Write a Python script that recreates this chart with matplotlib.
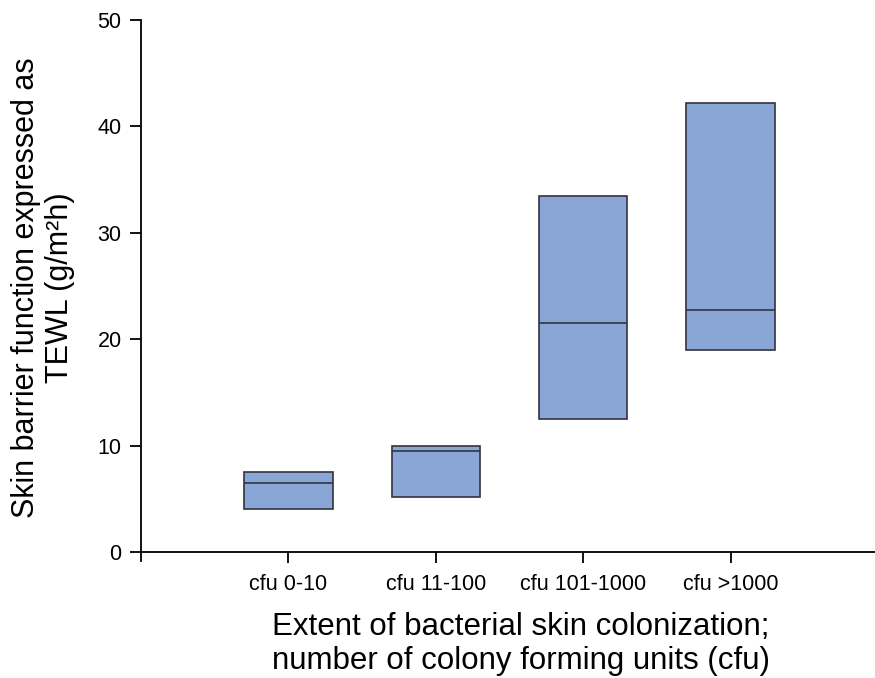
import matplotlib
matplotlib.use("Agg")
import matplotlib.pyplot as plt

plt.rcParams['font.family'] = ['Liberation Sans', 'DejaVu Sans']

categories = ["cfu 0-10", "cfu 11-100", "cfu 101-1000", "cfu >1000"]
q1 = [4.0, 5.2, 12.5, 19.0]
median = [6.5, 9.5, 21.5, 22.7]
q3 = [7.5, 10.0, 33.5, 42.2]
y_ticks = [0, 10, 20, 30, 40, 50]

fill_color = "#8aa6d6"
edge_color = "#30343f"

fig = plt.figure(figsize=(8.75, 6.78), dpi=100)
ax = fig.add_axes([141 / 875, 1 - 552 / 678, 737 / 875, 532 / 678])

pos = list(range(1, len(categories) + 1))
heights = [t - b for t, b in zip(q3, q1)]
ax.bar(pos, heights, bottom=q1, width=0.6, color=fill_color,
       edgecolor=edge_color, linewidth=1.2, zorder=2)
ax.hlines(median, [p - 0.3 for p in pos], [p + 0.3 for p in pos],
          colors=edge_color, linewidth=1.2, zorder=3)

ax.set_xlim(0, 5)
ax.set_ylim(0, 50)
ax.set_xticks(pos)
ax.set_xticklabels(categories, fontsize=15.5)
ax.set_yticks(y_ticks)
ax.set_yticklabels([str(v) for v in y_ticks], fontsize=15.5)
ax.tick_params(axis='both', direction='out', length=8, width=1.3, colors='black', pad=6)
ax.tick_params(axis='x', pad=8)

for side in ('top', 'right'):
    ax.spines[side].set_visible(False)
for side in ('left', 'bottom'):
    ax.spines[side].set_linewidth(1.3)

# short stub of the y axis below the origin
ax.plot([0, 0], [0, -0.016], transform=ax.transAxes, color='black',
        linewidth=1.3, clip_on=False)

ax.set_ylabel("Skin barrier function expressed as\nTEWL (g/m\u00b2h)",
              fontsize=22, linespacing=1.15)
ax.yaxis.set_label_coords(-0.090, 0.497)
ax.set_xlabel("Extent of bacterial skin colonization;\nnumber of colony forming units (cfu)",
              fontsize=22.5, linespacing=1.15)
ax.xaxis.set_label_coords(0.5156, -0.113)

fig.savefig("out.png", dpi=100)
